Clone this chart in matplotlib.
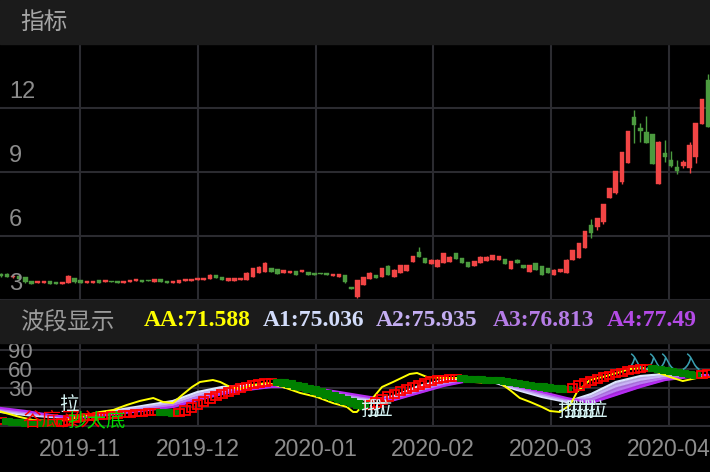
import matplotlib
matplotlib.use('Agg')
import matplotlib.pyplot as plt
import matplotlib.transforms as mtransforms
from matplotlib.patches import Rectangle
import numpy as np

# ---------------- data ----------------
months = ['2019-11', '2019-12', '2020-01', '2020-02', '2020-03', '2020-04']
month_pos = [12.9, 32.1, 51.3, 70.3, 89.5, 108.7]

opens = [4.22, 4.22, 4.08, 4.13, 4.08, 3.89, 3.80, 3.80, 3.89, 3.84,
         3.75, 3.80, 4.03, 3.94, 3.80, 3.80, 3.94, 3.84, 3.89, 3.89,
         3.80, 3.84, 3.89, 3.94, 3.94, 3.84, 3.98, 3.89, 3.80, 3.80,
         3.89, 3.89, 3.94, 3.94, 3.98, 4.17, 4.08, 3.89, 3.89, 3.94,
         3.94, 4.08, 4.27, 4.31, 4.50, 4.45, 4.27, 4.27, 4.36, 4.31,
         4.31, 4.27, 4.27, 4.27, 4.13, 4.08, 4.17, 3.61, 3.14, 3.70,
         3.98, 4.17, 4.08, 4.59, 4.08, 4.27, 4.36, 4.78, 5.25, 4.97,
         4.69, 4.55, 4.73, 4.78, 5.20, 4.97, 4.78, 4.59, 4.73, 4.83,
         4.88, 4.88, 4.92, 4.45, 4.88, 4.64, 4.31, 4.73, 4.59, 4.50,
         4.17, 4.31, 4.27, 4.88, 4.97, 5.44, 6.52, 6.42, 6.66, 7.78,
         8.02, 8.53, 9.42, 11.58, 11.06, 10.88, 10.78, 8.44, 9.89, 9.56,
         9.23, 9.28, 9.19, 9.70, 11.25, 13.31]
closes = [4.13, 4.08, 4.13, 3.98, 3.84, 3.75, 3.89, 3.89, 3.75, 3.75,
          3.84, 4.13, 3.84, 3.80, 3.89, 3.89, 3.80, 3.94, 3.84, 3.80,
          3.89, 3.94, 3.98, 3.84, 3.89, 3.98, 3.84, 3.80, 3.89, 3.94,
          3.98, 3.98, 4.03, 4.03, 4.17, 4.03, 3.94, 4.03, 4.03, 4.03,
          4.27, 4.50, 4.55, 4.73, 4.31, 4.22, 4.41, 4.36, 4.17, 4.41,
          4.17, 4.17, 4.22, 4.17, 4.22, 4.22, 3.84, 3.52, 3.94, 4.08,
          4.27, 4.03, 4.50, 4.17, 4.41, 4.64, 4.64, 5.06, 5.02, 4.73,
          4.88, 4.88, 5.20, 5.02, 4.92, 4.73, 4.55, 4.83, 5.02, 5.02,
          5.11, 5.06, 4.69, 4.83, 4.73, 4.50, 4.64, 4.41, 4.17, 4.27,
          4.41, 4.45, 4.88, 5.34, 5.67, 6.23, 6.14, 6.84, 7.50, 8.25,
          9.05, 9.94, 10.92, 11.20, 10.92, 10.36, 9.38, 10.41, 9.70, 9.28,
          9.05, 9.47, 10.27, 11.30, 12.42, 11.11]
highs = [4.25, 4.25, 4.15, 4.15, 4.10, 3.91, 3.91, 3.90, 3.91, 3.86,
         3.86, 4.15, 4.05, 3.96, 3.90, 3.91, 3.95, 3.95, 3.90, 3.90,
         3.90, 3.95, 3.99, 3.95, 3.95, 3.99, 3.99, 3.90, 3.90, 3.95,
         3.99, 3.99, 4.04, 4.04, 4.20, 4.18, 4.09, 4.04, 4.04, 4.04,
         4.29, 4.52, 4.60, 4.78, 4.52, 4.46, 4.42, 4.37, 4.37, 4.42,
         4.32, 4.28, 4.28, 4.28, 4.23, 4.23, 4.18, 3.62, 3.95, 4.10,
         4.29, 4.18, 4.52, 4.62, 4.43, 4.66, 4.66, 5.08, 5.48, 4.99,
         4.90, 4.90, 5.22, 5.04, 5.22, 4.99, 4.80, 4.85, 5.04, 5.04,
         5.13, 5.08, 4.94, 4.85, 4.90, 4.66, 4.66, 4.75, 4.61, 4.52,
         4.43, 4.47, 4.90, 5.36, 5.69, 6.25, 6.80, 6.86, 7.52, 8.27,
         9.07, 9.96, 10.94, 11.91, 11.30, 11.63, 10.80, 10.43, 10.50, 9.98,
         9.56, 9.56, 10.41, 11.32, 12.44, 13.60]
lows = [4.10, 4.06, 4.05, 3.96, 3.82, 3.73, 3.78, 3.79, 3.74, 3.74,
        3.74, 3.79, 3.82, 3.79, 3.79, 3.79, 3.79, 3.83, 3.83, 3.79,
        3.79, 3.83, 3.88, 3.83, 3.88, 3.83, 3.83, 3.79, 3.79, 3.79,
        3.88, 3.88, 3.93, 3.93, 3.97, 4.02, 3.93, 3.88, 3.88, 3.93,
        3.93, 4.06, 4.25, 4.29, 4.30, 4.20, 4.26, 4.26, 4.16, 4.30,
        4.16, 4.16, 4.21, 4.16, 4.12, 4.07, 3.82, 3.50, 3.10, 3.68,
        3.97, 4.02, 4.07, 4.16, 4.07, 4.26, 4.35, 4.77, 5.00, 4.72,
        4.68, 4.54, 4.72, 4.77, 4.91, 4.72, 4.54, 4.58, 4.72, 4.82,
        4.87, 4.87, 4.68, 4.44, 4.72, 4.49, 4.30, 4.40, 4.16, 4.26,
        4.16, 4.30, 4.26, 4.87, 4.96, 5.43, 5.91, 6.30, 6.55, 7.76,
        7.95, 8.45, 9.40, 10.36, 10.41, 10.34, 9.36, 8.42, 9.47, 9.23,
        8.91, 9.19, 8.95, 9.42, 11.23, 11.09]

price_ticks = [12, 9, 6, 3]

# indicator: yellow AA line (bar index, value)
aa_idx = [0, 3.1, 5.2, 8.0, 10.8, 14.0, 16.1, 18.3, 20.5, 22.6, 24.8, 26.4, 28.0, 29.5,
          31.1, 32.4, 34.5, 35.7, 37.3, 38.9, 41.0, 43.3, 45.9, 48.7, 51.4, 54.0, 56.3,
          57.3, 57.9, 58.9, 60.5, 62.0, 63.8, 66.5, 67.7, 69.3, 71.9, 74.7, 76.8, 79.5,
          81.2, 82.8, 84.4, 86.1, 88.0, 89.3, 90.9, 92.6, 93.7, 95.8, 97.9, 100.2, 102.3,
          104.4, 106.7, 108.8, 110.9, 113.2, 115.3]
aa_val = [-7.4, -15.8, -20.5, -22.1, -20.5, -12.6, -7.9, -4.7, 3.2, 9.5, 14.2, 7.9, 6.3,
          18.9, 31.6, 39.5, 42.6, 39.5, 31.6, 28.4, 34.7, 37.9, 31.6, 22.1, 15.8, 6.3, 0.0,
          -7.9, -7.9, 3.2, 14.2, 31.6, 39.5, 52.1, 53.7, 47.4, 45.8, 45.8, 39.5, 37.9, 37.9,
          26.8, 14.2, 7.9, 0.0, -6.3, -7.9, 3.2, 23.7, 42.6, 47.4, 53.7, 60.0, 61.6, 55.3,
          47.4, 41.0, 45.8, 47.4]

# indicator: wave band A1..A4 sampled every 4 bars
band_idx = [0, 4, 8, 12, 16, 20, 24, 28, 32, 36, 40, 44, 48, 52, 56, 60, 64, 68, 72, 76,
            80, 84, 88, 92, 96, 100, 104, 108, 112, 115]
a1 = [-7.9, -12.6, -15.8, -16.6, -9.5, -3.2, 3.2, 9.5, 23.7, 31.6, 34.7, 34.7, 28.4, 22.1,
      14.2, 11.0, 17.4, 33.2, 42.6, 44.2, 39.5, 26.8, 15.8, 7.9, 20.5, 39.5, 48.9, 52.1,
      52.1, 48.9]
a2 = [-5.8, -10.6, -14.7, -16.9, -11.1, -5.2, 0.5, 6.3, 19.4, 27.9, 32.1, 33.6, 29.5, 24.2,
      16.9, 12.6, 15.3, 29.5, 39.5, 43.1, 40.6, 28.9, 18.5, 9.9, 15.8, 32.7, 43.1, 48.9,
      50.5, 49.4]
a3 = [-3.6, -8.4, -13.7, -17.1, -12.6, -7.4, -2.1, 3.2, 15.3, 24.2, 29.5, 32.7, 30.5, 26.4,
      19.4, 14.2, 13.1, 25.7, 36.3, 42.2, 41.5, 31.1, 21.0, 12.2, 11.0, 25.7, 37.4, 45.8,
      48.9, 50.0]
a4 = [-1.6, -6.3, -12.6, -17.4, -14.2, -9.5, -4.7, 0.0, 11.0, 20.5, 26.8, 31.6, 31.6, 28.4,
      22.1, 15.8, 11.0, 22.1, 33.2, 41.0, 42.6, 33.2, 23.7, 14.2, 6.3, 18.9, 31.6, 42.6,
      47.4, 50.5]

# indicator: trend boxes, one value per bar
trend = [-22.1, -22.9, -23.7, -24.5, -25.3, -25.3, -25.3, -25.3, -25.7, -26.1,
         -23.7, -18.9, -17.4, -16.6, -15.8, -15.0, -14.2, -13.4, -12.6, -11.8,
         -11.1, -10.3, -9.5, -8.7, -7.9, -7.1, -7.9, -8.7, -9.5, -7.9,
         -3.2, 1.6, 6.3, 11.0, 15.8, 18.9, 22.1, 25.3, 28.4, 31.6,
         33.9, 36.3, 37.9, 39.5, 40.3, 39.5, 37.9, 35.5, 33.2, 30.8,
         28.4, 25.3, 22.1, 18.9, 15.8, 12.6, 9.5, 6.3, 3.2, 1.6,
         4.7, 9.5, 14.2, 18.9, 22.9, 26.8, 30.0, 33.2, 36.3, 39.5,
         42.6, 44.2, 45.0, 45.8, 46.1, 45.0, 44.2, 43.7, 43.3, 42.6,
         42.2, 41.7, 40.3, 38.7, 37.1, 35.5, 33.9, 32.7, 31.6, 30.5,
         29.5, 28.4, 27.6, 31.6, 36.3, 39.5, 42.6, 45.8, 48.9, 51.3,
         53.7, 56.1, 58.4, 60.0, 61.6, 62.4, 60.8, 59.2, 57.6, 56.1,
         54.5, 52.9, 51.3, 50.5, 52.1, 53.7]

ind_ticks = [90, 60, 30]
legend_items = ['AA:71.588', 'A1:75.036', 'A2:75.935', 'A3:76.813', 'A4:77.49']
legend_colors = ['#ffff00', '#d2dcfa', '#c4aef2', '#b57ce6', '#b44ae6']
legend_x = [144, 263, 376, 493, 607]

# ---------------- layout ----------------
W, H = 710, 472
fig = plt.figure(figsize=(7.1, 4.72), dpi=100, facecolor='black')
CJK = ['Noto Sans CJK SC', 'DejaVu Sans']
SANS = 'Liberation Sans'
GRID = '#2b2b30'
LABEL = '#8c8c8c'
RED = '#f24545'
GREEN = '#4c9b3f'

def fy(py):
    return 1 - py / H

# header bands
fig.patches.append(Rectangle((0, fy(44)), 1, 44 / H, transform=fig.transFigure,
                             color='#1b1b1b', zorder=0))
fig.patches.append(Rectangle((0, fy(343)), 1, 43 / H, transform=fig.transFigure,
                             color='#1b1b1b', zorder=0))
fig.text(20 / W, fy(22), '指标', family=CJK, fontsize=17, color='#a6a6a6',
         ha='left', va='center')
fig.text(20 / W, fy(322), '波段显示', family=CJK, fontsize=17, color='#9a9a9a',
         ha='left', va='center')
for t, c, xp in zip(legend_items, legend_colors, legend_x):
    fig.text(xp / W, fy(321), t, family='Liberation Serif', fontweight='bold',
             fontsize=17, color=c, ha='left', va='center')

xlim = (-0.12, 115.33)

# ---------------- main candle chart ----------------
ax = fig.add_axes([0, fy(300), 1, 256 / H])
ax.set_facecolor('black')
ax.set_xlim(*xlim)
ax.set_ylim(3, 15)
for s in ax.spines.values():
    s.set_visible(False)
ax.set_xticks([])
ax.set_yticks([])
for v in [6, 9, 12]:
    ax.axhline(v, color=GRID, lw=1.5, zorder=0)
ax.axhline(3.02, color=GRID, lw=1.5, zorder=0)
for p in month_pos:
    ax.axvline(p, color=GRID, lw=1.5, zorder=0)

bw = 0.74
for i, (o, c, h, l) in enumerate(zip(opens, closes, highs, lows)):
    col = RED if c >= o else GREEN
    ax.vlines(i, l, h, color=col, lw=1.0, zorder=2)
    bot = min(o, c)
    ht = max(abs(c - o), 0.04)
    ax.add_patch(Rectangle((i - bw / 2, bot), bw, ht, facecolor=col,
                           edgecolor=col, lw=0.3, zorder=3))

off = mtransforms.offset_copy(ax.transData, fig=fig, x=0, y=11.5, units='points')
bt = mtransforms.blended_transform_factory(ax.transAxes, off)
for v in price_ticks:
    ax.text(9 / W, v, str(v), transform=bt, family=SANS, fontsize=17,
            color=LABEL, ha='left', va='center', zorder=5)

# ---------------- indicator panel ----------------
ax2 = fig.add_axes([0, fy(427), 1, 84 / H])
ax2.set_facecolor('black')
ax2.set_xlim(*xlim)
ax2.set_ylim(-31.6, 101.05)
for s in ax2.spines.values():
    s.set_visible(False)
ax2.set_xticks([])
ax2.set_yticks([])
for v in [90, 60, 30, 0, -30]:
    ax2.axhline(v, color=GRID, lw=1.5, zorder=0)
for p in month_pos:
    ax2.axvline(p, color=GRID, lw=1.5, zorder=0)

bcols = ['#dde6ff', '#c9b4f6', '#b97af0', '#b52cf2']
bands = [a1, a2, a3, a4]
for k in range(3):
    ax2.fill_between(band_idx, bands[k], bands[k + 1], color=bcols[k + 1],
                     lw=0, zorder=1, alpha=0.9)
for k in range(4):
    ax2.plot(band_idx, bands[k], color=bcols[k], lw=1.6, zorder=2)

ax2.plot(aa_idx, aa_val, color='#ffff00', lw=1.4, zorder=3)

up = True
bwid = 1.55
for i in range(len(trend)):
    prev = trend[i - 1] if i > 0 else trend[i]
    if trend[i] > prev:
        up = True
    elif trend[i] < prev:
        up = False
    lo = min(prev, trend[i]) - 4.5
    hi = max(prev, trend[i]) + 4.5
    if up:
        ax2.add_patch(Rectangle((i - bwid / 2, lo), bwid, hi - lo, facecolor='none',
                                edgecolor='#ff0000', lw=1.3, zorder=4))
    else:
        ax2.add_patch(Rectangle((i - bwid / 2, lo), bwid, hi - lo, facecolor='#008000',
                                edgecolor='#008000', lw=0.8, zorder=4))

TXT = '#d4f2f2'
ax2.text(11, 4, '拉', family=CJK, fontsize=14, color=TXT, ha='center', va='center', zorder=6)
for b in [60, 61, 62]:
    ax2.text(b, -4, '拉', family=CJK, fontsize=14, color=TXT, ha='center', va='center', zorder=6)
for b in [92, 93, 94, 95, 96, 97]:
    ax2.text(b, -5, '拉', family=CJK, fontsize=14, color=TXT, ha='center', va='center', zorder=6)
ax2.text(3.5, -22, '谷底买入', family=CJK, fontsize=14, color='#ff0000', ha='left',
         va='center', zorder=6)
ax2.text(10.8, -22, '抄大底', family=CJK, fontsize=14, color='#00dd00', ha='left',
         va='center', zorder=6)
for b in [103, 106, 108, 112]:
    ax2.text(b, 67, '入', family=CJK, fontsize=14, color='#3a9fb0', ha='center',
             va='center', zorder=3.5)

off2 = mtransforms.offset_copy(ax2.transData, fig=fig, x=0, y=-2, units='points')
bt2 = mtransforms.blended_transform_factory(ax2.transAxes, off2)
for v in ind_ticks:
    ax2.text(8 / W, v, str(v), transform=bt2, family=SANS, fontsize=16,
             color=LABEL, ha='left', va='center', zorder=7)

dt = mtransforms.blended_transform_factory(ax2.transData, fig.transFigure)
for p, m in zip(month_pos, months):
    ax2.text(p, fy(449), m, transform=dt, family=SANS, fontsize=16.5, color=LABEL,
             ha='center', va='center', clip_on=False)

fig.savefig('out.png', dpi=100, facecolor='black')
